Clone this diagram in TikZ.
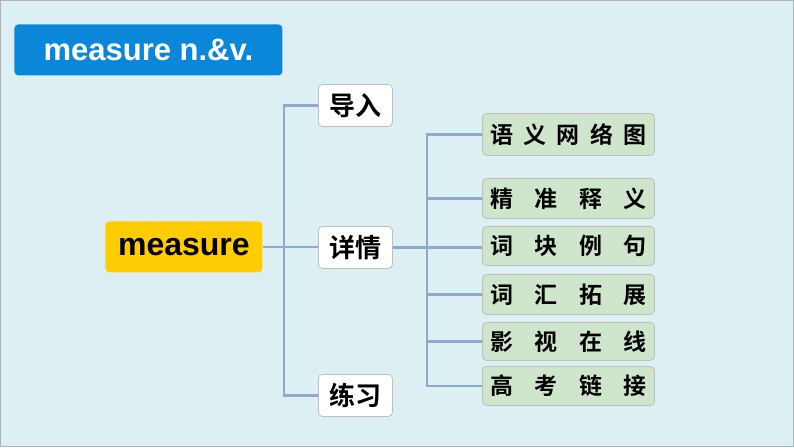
\documentclass[tikz,border=0pt]{standalone}
\usepackage{fontspec}
\setmainfont{Liberation Sans}
\newfontfamily\cjk{Noto Sans CJK SC}[BoldFont={* Bold}]
\definecolor{bg}{HTML}{DCF0F4}
\definecolor{ttl}{HTML}{0A87D8}
\definecolor{yel}{HTML}{FFCC00}
\definecolor{grn}{HTML}{CFE6CC}
\definecolor{ln}{HTML}{8FA8D0}
\newcommand{\spr}[1]{\makebox[156pt][s]{#1}}
\tikzset{
 box/.style={rounded corners=4pt,inner sep=0pt,anchor=north west,draw=gray!50,line width=0.8pt},
 wbox/.style={box,fill=white,minimum width=74pt,minimum height=42pt,font=\cjk\bfseries\fontsize{26}{28}\selectfont},
 gbox/.style={box,fill=grn,minimum width=172pt,font=\cjk\bfseries\fontsize{23}{25}\selectfont},
 conn/.style={ln,line width=2.4pt}
}
\begin{document}
\begin{tikzpicture}[x=1pt,y=-1pt]
\fill[bg] (0,0) rectangle (794,447);
\draw[gray!60,line width=1pt] (0.5,0.5) rectangle (793.5,446.5);
\node[box,fill=ttl,draw=none,minimum width=268pt,minimum height=51pt,text=white,font=\bfseries\fontsize{31}{33}\selectfont] (title) at (14,24) {measure n.\&v.};
\node[box,fill=yel,draw=none,minimum width=157pt,minimum height=51pt,font=\bfseries\fontsize{32}{34}\selectfont] (m) at (105,221) {measure};
\node[wbox] (a) at (318,84) {导入};
\node[wbox] (b) at (318,226) {详情};
\node[wbox] (c) at (318,374) {练习};
\node[gbox,minimum height=42pt] (g1) at (482,113) {\spr{语\hfill 义\hfill 网\hfill 络\hfill 图}};
\node[gbox,minimum height=40pt] (g2) at (482,178) {\spr{精\hfill 准\hfill 释\hfill 义}};
\node[gbox,minimum height=39pt] (g3) at (482,226) {\spr{词\hfill 块\hfill 例\hfill 句}};
\node[gbox,minimum height=40pt] (g4) at (482,274) {\spr{词\hfill 汇\hfill 拓\hfill 展}};
\node[gbox,minimum height=38pt] (g5) at (482,322) {\spr{影\hfill 视\hfill 在\hfill 线}};
\node[gbox,minimum height=39pt] (g6) at (482,366) {\spr{高\hfill 考\hfill 链\hfill 接}};
\coordinate (s1) at (284,247);
\coordinate (s2) at (427,247);
\draw[conn] (m.east) -- (m.east -| b.west);
\foreach \n in {a,c} \draw[conn] (s1) |- (\n.west);
\draw[conn] (b.east) -- (b.east -| g3.west);
\foreach \n in {g1,g2,g4,g5,g6} \draw[conn] (s2) |- (\n.west);
\end{tikzpicture}
\end{document}
